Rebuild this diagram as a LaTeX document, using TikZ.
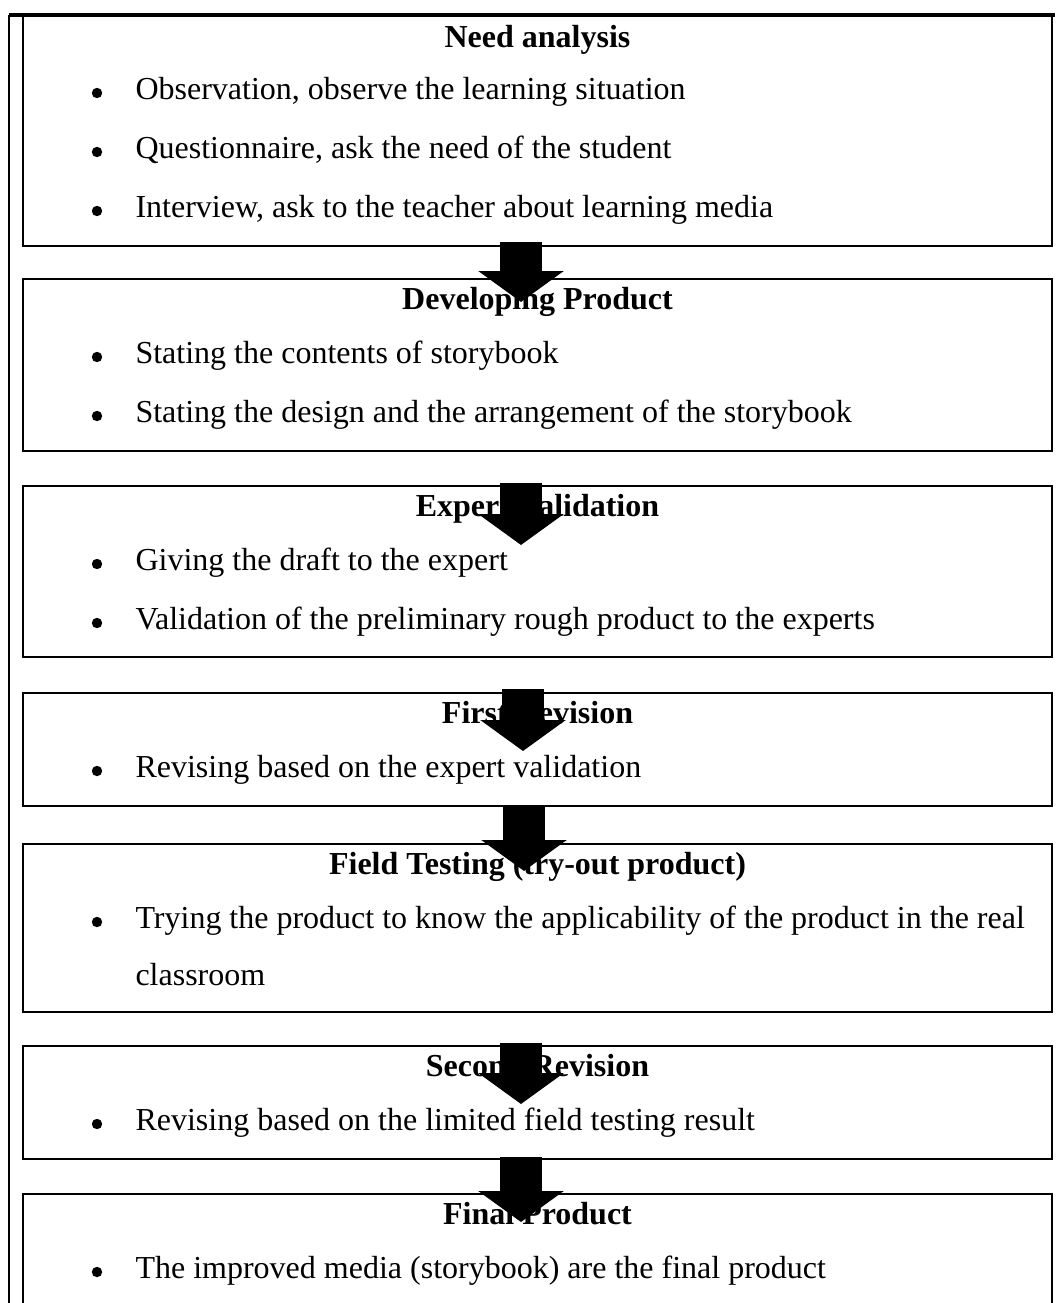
\documentclass[tikz,border=0pt]{standalone}
\usepackage{fontspec}
\setmainfont{Liberation Serif}
\usetikzlibrary{arrows.meta}
\begin{document}
\begin{tikzpicture}[x=0.375pt,y=-0.375pt,
  box/.style={draw, line width=0.85pt, inner sep=0pt, outer sep=0pt, minimum width=385.875pt},
  ttl/.style={font=\fontsize{12pt}{14pt}\selectfont\bfseries, inner sep=0pt, anchor=mid},
  itm/.style={font=\fontsize{12pt}{14pt}\selectfont, inner sep=0pt, anchor=mid west},
  dot/.style={circle, fill, inner sep=0pt, minimum size=3.9pt},
  fat/.style={line width=15.75pt, -{Triangle[width=31.5pt,length=11.625pt]}}
]
\useasboundingbox (0,0) rectangle (1055,1303);
\clip (0,0) rectangle (1055,1303);

% outer frame
\coordinate (ftl) at (9,15);
\coordinate (ftr) at (1055,15);
\coordinate (fbl) at (9,1310);
\draw[line width=0.95pt] (fbl) -- (ftl);
\draw[line width=1.3pt] (ftl) -- (ftr);

% boxes
\node[box, minimum height=86.625pt] (b1) at (537.5,130.5) {};
\node[box, minimum height=64.5pt]   (b2) at (537.5,365) {};
\node[box, minimum height=64.125pt] (b3) at (537.5,571.5) {};
\node[box, minimum height=42.375pt] (b4) at (537.5,749.5) {};
\node[box, minimum height=63pt]     (b5) at (537.5,928) {};
\node[box, minimum height=42.375pt] (b6) at (537.5,1102.5) {};
\node[box, minimum height=51pt]     (b7) at (537.5,1262) {};

% box 1
\node[ttl] (t1) at (537.5,41) {Need analysis};
\node[dot] (d11) at (97,93) {};
\node[itm] (i11) at (135,93) {Observation, observe the learning situation};
\node[dot] (d12) at (97,152) {};
\node[itm] (i12) at (135,152) {Questionnaire, ask the need of the student};
\node[dot] (d13) at (97,211) {};
\node[itm] (i13) at (135,211) {Interview, ask to the teacher about learning media};

% box 2
\node[ttl] (t2) at (537.5,303) {Developing Product};
\node[dot] (d21) at (97,357) {};
\node[itm] (i21) at (135,357) {Stating the contents of storybook};
\node[dot] (d22) at (97,416) {};
\node[itm] (i22) at (135,416) {Stating the design and the arrangement of the storybook};

% box 3
\node[ttl] (t3) at (537.5,510) {Expert Validation};
\node[dot] (d31) at (97,564) {};
\node[itm] (i31) at (135,564) {Giving the draft to the expert};
\node[dot] (d32) at (97,623) {};
\node[itm] (i32) at (135,623) {Validation of the preliminary rough product to the experts};

% box 4
\node[ttl] (t4) at (537.5,717) {First Revision};
\node[dot] (d41) at (97,771) {};
\node[itm] (i41) at (135,771) {Revising based on the expert validation};

% box 5
\node[ttl] (t5) at (537.5,868) {Field Testing (try-out product)};
\node[dot] (d51) at (97,922) {};
\node[itm] (i51) at (135,922) {Trying the product to know the applicability of the product in the real};
\node[itm] (i52) at (135,979) {classroom};

% box 6
\node[ttl] (t6) at (537.5,1070) {Second Revision};
\node[dot] (d61) at (97,1124) {};
\node[itm] (i61) at (135,1124) {Revising based on the limited field testing result};

% box 7
\node[ttl] (t7) at (537.5,1218) {Final Product};
\node[dot] (d71) at (97,1272) {};
\node[itm] (i71) at (135,1272) {The improved media (storybook) are the final product};

% block arrows
\coordinate (a1s) at (521,242);  \coordinate (a1e) at (521,302);
\coordinate (a2s) at (521,483);  \coordinate (a2e) at (521,545);
\coordinate (a3s) at (523,689);  \coordinate (a3e) at (523,751);
\coordinate (a4s) at (524,805);  \coordinate (a4e) at (524,871);
\coordinate (a5s) at (521,1043); \coordinate (a5e) at (521,1104);
\coordinate (a6s) at (521,1157); \coordinate (a6e) at (521,1222);
\draw[fat] (a1s) -- (a1e);
\draw[fat] (a2s) -- (a2e);
\draw[fat] (a3s) -- (a3e);
\draw[fat] (a4s) -- (a4e);
\draw[fat] (a5s) -- (a5e);
\draw[fat] (a6s) -- (a6e);
\end{tikzpicture}
\end{document}
